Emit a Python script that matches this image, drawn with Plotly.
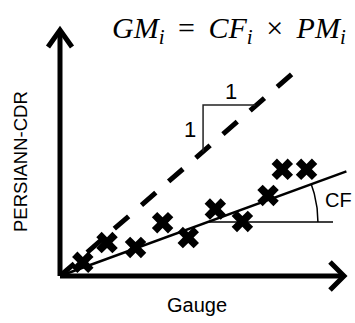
import numpy as np
import plotly.graph_objects as go

# Data (schematic units)
gauge = [0.8, 1.65, 2.65, 3.6, 4.5, 5.45, 6.4, 7.3, 7.8, 8.65]
persiann = [0.55, 1.35, 1.15, 2.15, 1.55, 2.7, 2.2, 3.25, 4.3, 4.3]
one_to_one_x = [0, 8.15]
cf_slope = 0.42
cf_line_x = [0, 10.05]
cf_ref_y = 2.18
equation = ("<i>GM</i><sub><i>i</i></sub>\u2009 = \u2009<i>CF</i><sub><i>i</i></sub>"
            "\u2009 × \u2009<i>PM</i><sub><i>i</i></sub>")
x_label = "Gauge"
y_label = "PERSIANN-CDR"

W, H = 355, 323
ox, oy = 60, 276          # pixel origin
sx, sy = 28.5, 24.8       # pixels per unit
xr = [-ox / sx, (W - ox) / sx]
yr = [-(H - oy) / sy, oy / sy]

def px2d(px, py):
    return (px - ox) / sx, (oy - py) / sy

fig = go.Figure()

# 1:1 dashed line
fig.add_trace(go.Scatter(x=one_to_one_x, y=one_to_one_x, mode="lines",
                         line=dict(color="black", width=5, dash="19px,17px"),
                         hoverinfo="skip"))
# CF regression line
fig.add_trace(go.Scatter(x=cf_line_x, y=[cf_slope * v for v in cf_line_x], mode="lines",
                         line=dict(color="black", width=2.5), hoverinfo="skip"))
# horizontal reference line
x_int = cf_ref_y / cf_slope
fig.add_trace(go.Scatter(x=[x_int, px2d(333, 0)[0]], y=[cf_ref_y, cf_ref_y], mode="lines",
                         line=dict(color="black", width=1.5), hoverinfo="skip"))
# arc for CF angle (circular in pixels)
cpx = ox + x_int * sx
cpy = oy - cf_ref_y * sy
ang = np.arctan(cf_slope * sy / sx)
th = np.linspace(0, ang, 30)
r = 110
ax_ = (cpx + r * np.cos(th) - ox) / sx
ay_ = (oy - (cpy - r * np.sin(th))) / sy
fig.add_trace(go.Scatter(x=ax_, y=ay_, mode="lines",
                         line=dict(color="black", width=1.5), hoverinfo="skip"))
# slope triangle
fig.add_trace(go.Scatter(x=[5.02, 5.02, 6.85], y=[5.02, 6.9, 6.9], mode="lines",
                         line=dict(color="#222", width=1.5), hoverinfo="skip"))
# markers
fig.add_trace(go.Scatter(x=gauge, y=persiann, mode="markers",
                         marker=dict(symbol="x", size=19, color="black",
                                     line=dict(width=0)),
                         hoverinfo="skip"))

shapes = []
# axes
shapes.append(dict(type="line", xref="x", yref="y", x0=0, y0=0, x1=0,
                   y1=px2d(0, 30)[1], line=dict(color="black", width=5)))
shapes.append(dict(type="line", xref="x", yref="y", x0=0, y0=0,
                   x1=px2d(343, 0)[0], y1=0, line=dict(color="black", width=5)))
# arrowheads
def path(pts):
    return "M " + " L ".join(f"{a:.4f},{b:.4f}" for a, b in pts)
yh = [px2d(48, 47), px2d(60, 30), px2d(72, 47)]
xh = [px2d(330, 262), px2d(344, 276), px2d(330, 290)]
for pts in (yh, xh):
    shapes.append(dict(type="path", xref="x", yref="y", path=path(pts),
                       line=dict(color="black", width=5)))

fig.update_layout(shapes=shapes)

ann = [
    dict(x=px2d(231, 0)[0], y=px2d(0, 91)[1], text="1", showarrow=False,
         font=dict(size=22, color="black", family="Liberation Sans")),
    dict(x=px2d(190, 0)[0], y=px2d(0, 129)[1], text="1", showarrow=False,
         font=dict(size=22, color="black", family="Liberation Sans")),
    dict(x=px2d(338, 0)[0], y=px2d(0, 200)[1], text="CF", showarrow=False,
         font=dict(size=20, color="black", family="Liberation Sans")),
    dict(x=px2d(197, 0)[0], y=px2d(0, 305)[1], text=x_label, showarrow=False,
         font=dict(size=20, color="black", family="Liberation Sans")),
    dict(x=px2d(20, 0)[0], y=px2d(0, 162)[1], text=y_label, showarrow=False,
         textangle=-90, font=dict(size=18.5, color="black", family="Liberation Sans")),
    dict(x=px2d(229, 0)[0], y=px2d(0, 30)[1], text=equation, showarrow=False,
         font=dict(size=30, color="black", family="Liberation Serif")),
]

fig.update_layout(
    width=W, height=H, autosize=False,
    margin=dict(l=0, r=0, t=0, b=0, pad=0),
    paper_bgcolor="white", plot_bgcolor="white",
    showlegend=False,
    xaxis=dict(range=xr, visible=False, fixedrange=True),
    yaxis=dict(range=yr, visible=False, fixedrange=True),
    annotations=ann,
)

fig.write_html("out.html", config={"displayModeBar": False})
